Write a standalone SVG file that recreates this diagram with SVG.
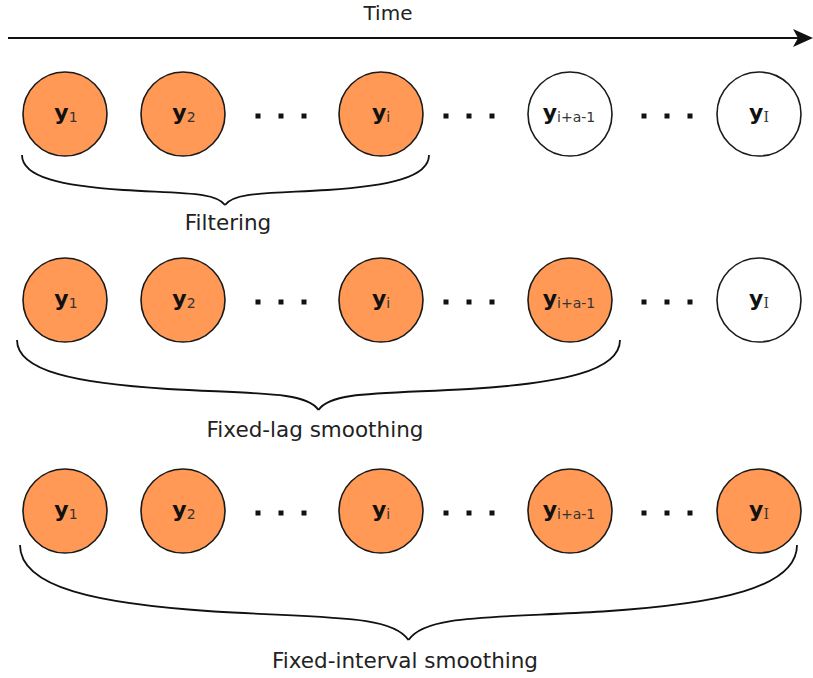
<svg xmlns="http://www.w3.org/2000/svg" width="813" height="678" viewBox="0 0 813 678">
<style>
  .bg{fill:#ffffff}
  .on{fill:#ff9955;stroke:#1a1a1a;stroke-width:1.6}
  .off{fill:#ffffff;stroke:#1a1a1a;stroke-width:1.6}
  .lbl{font-family:"DejaVu Sans",Verdana,sans-serif;font-size:21.5px;fill:#222;text-anchor:middle}
  .time{font-family:"DejaVu Sans",Verdana,sans-serif;font-size:20px;fill:#222;text-anchor:middle}
  .nt{font-family:"DejaVu Sans",Verdana,sans-serif;text-anchor:middle;fill:#111}
  .yb{font-weight:bold;font-size:22px}
  .sub{font-size:14px;fill:#333}
  .ser{font-family:"DejaVu Serif","Liberation Serif",serif}
  .brace{fill:none;stroke:#111;stroke-width:1.8}
  .dot{fill:#111}
  .axis{stroke:#111;stroke-width:2;fill:none}
</style>
<defs>
  <marker id="arr" viewBox="0 0 20 20" refX="18" refY="10" markerWidth="20" markerHeight="20" markerUnits="userSpaceOnUse" orient="auto">
    <path d="M0,1 L20,10 L0,19 L5,10 Z" fill="#111"/>
  </marker>
  <g id="dots">
    <rect x="-2.5" y="-2.5" width="5" height="5"/>
    <rect x="20.5" y="-2.5" width="5" height="5"/>
    <rect x="43.5" y="-2.5" width="5" height="5"/>
  </g>
</defs>
<rect class="bg" width="813" height="678"/>

<g id="time-axis">
  <text class="time" x="388" y="20">Time</text>
  <line class="axis" x1="8" y1="38" x2="811" y2="38" marker-end="url(#arr)"/>
</g>

<!-- Row 1: Filtering -->
<g id="r1-y1"><circle class="on" cx="65" cy="114" r="42"/><text class="nt" x="66" y="120"><tspan class="yb">y</tspan><tspan class="sub" dy="2">1</tspan></text></g>
<g id="r1-y2"><circle class="on" cx="183" cy="114" r="42"/><text class="nt" x="184" y="120"><tspan class="yb">y</tspan><tspan class="sub" dy="2">2</tspan></text></g>
<g id="r1-yi"><circle class="on" cx="381" cy="114" r="42"/><text class="nt" x="381" y="120"><tspan class="yb">y</tspan><tspan class="sub" dy="2">i</tspan></text></g>
<g id="r1-yia"><circle class="off" cx="570" cy="114" r="42"/><text class="nt" x="569" y="120"><tspan class="yb">y</tspan><tspan class="sub" dy="2">i+a-1</tspan></text></g>
<g id="r1-yI"><circle class="off" cx="759" cy="114" r="42"/><text class="nt" x="759" y="120"><tspan class="yb">y</tspan><tspan class="sub ser" dy="2">I</tspan></text></g>
<g id="r1-dots" class="dot">
  <use href="#dots" x="258" y="116"/>
  <use href="#dots" x="446" y="116"/>
  <use href="#dots" x="644" y="116"/>
</g>

<!-- Row 2: Fixed-lag -->
<g id="r2-y1"><circle class="on" cx="65" cy="300" r="42"/><text class="nt" x="66" y="306"><tspan class="yb">y</tspan><tspan class="sub" dy="2">1</tspan></text></g>
<g id="r2-y2"><circle class="on" cx="183" cy="300" r="42"/><text class="nt" x="184" y="306"><tspan class="yb">y</tspan><tspan class="sub" dy="2">2</tspan></text></g>
<g id="r2-yi"><circle class="on" cx="381" cy="300" r="42"/><text class="nt" x="381" y="306"><tspan class="yb">y</tspan><tspan class="sub" dy="2">i</tspan></text></g>
<g id="r2-yia"><circle class="on" cx="570" cy="300" r="42"/><text class="nt" x="569" y="306"><tspan class="yb">y</tspan><tspan class="sub" dy="2">i+a-1</tspan></text></g>
<g id="r2-yI"><circle class="off" cx="759" cy="300" r="42"/><text class="nt" x="759" y="306"><tspan class="yb">y</tspan><tspan class="sub ser" dy="2">I</tspan></text></g>
<g id="r2-dots" class="dot">
  <use href="#dots" x="258" y="302"/>
  <use href="#dots" x="446" y="302"/>
  <use href="#dots" x="644" y="302"/>
</g>

<!-- Row 3: Fixed-interval -->
<g id="r3-y1"><circle class="on" cx="65" cy="511" r="42"/><text class="nt" x="66" y="517"><tspan class="yb">y</tspan><tspan class="sub" dy="2">1</tspan></text></g>
<g id="r3-y2"><circle class="on" cx="183" cy="511" r="42"/><text class="nt" x="184" y="517"><tspan class="yb">y</tspan><tspan class="sub" dy="2">2</tspan></text></g>
<g id="r3-yi"><circle class="on" cx="381" cy="511" r="42"/><text class="nt" x="381" y="517"><tspan class="yb">y</tspan><tspan class="sub" dy="2">i</tspan></text></g>
<g id="r3-yia"><circle class="on" cx="570" cy="511" r="42"/><text class="nt" x="569" y="517"><tspan class="yb">y</tspan><tspan class="sub" dy="2">i+a-1</tspan></text></g>
<g id="r3-yI"><circle class="on" cx="759" cy="511" r="42"/><text class="nt" x="759" y="517"><tspan class="yb">y</tspan><tspan class="sub ser" dy="2">I</tspan></text></g>
<g id="r3-dots" class="dot">
  <use href="#dots" x="258" y="513"/>
  <use href="#dots" x="446" y="513"/>
  <use href="#dots" x="644" y="513"/>
</g>

<g id="braces">
  <path class="brace" d="M22,155 C22,177.5 62.6,186 123.5,190 C184.4,193.5 216,192 225,205 M429,155 C429,177.5 388.4,186 327.5,190 C266.6,193.5 234,192 225,205"/>
  <path class="brace" d="M17,340 C17,371.5 77.3,383.4 167.75,389 C258.2,393.9 306,391.5 318.5,410 M620,340 C620,371.5 559.7,383.4 469.25,389 C378.8,393.9 331,391.5 318.5,410"/>
  <path class="brace" d="M20,545 C20,587.75 97.7,603.9 214.25,611.5 C330.8,618.15 392,615 408.5,640 M797,545 C797,587.75 719.3,603.9 602.75,611.5 C486.2,618.15 425,615 408.5,640"/>
</g>

<g id="labels">
  <text class="lbl" x="228" y="230">Filtering</text>
  <text class="lbl" x="315" y="437">Fixed-lag smoothing</text>
  <text class="lbl" x="405" y="668">Fixed-interval smoothing</text>
</g>
</svg>
